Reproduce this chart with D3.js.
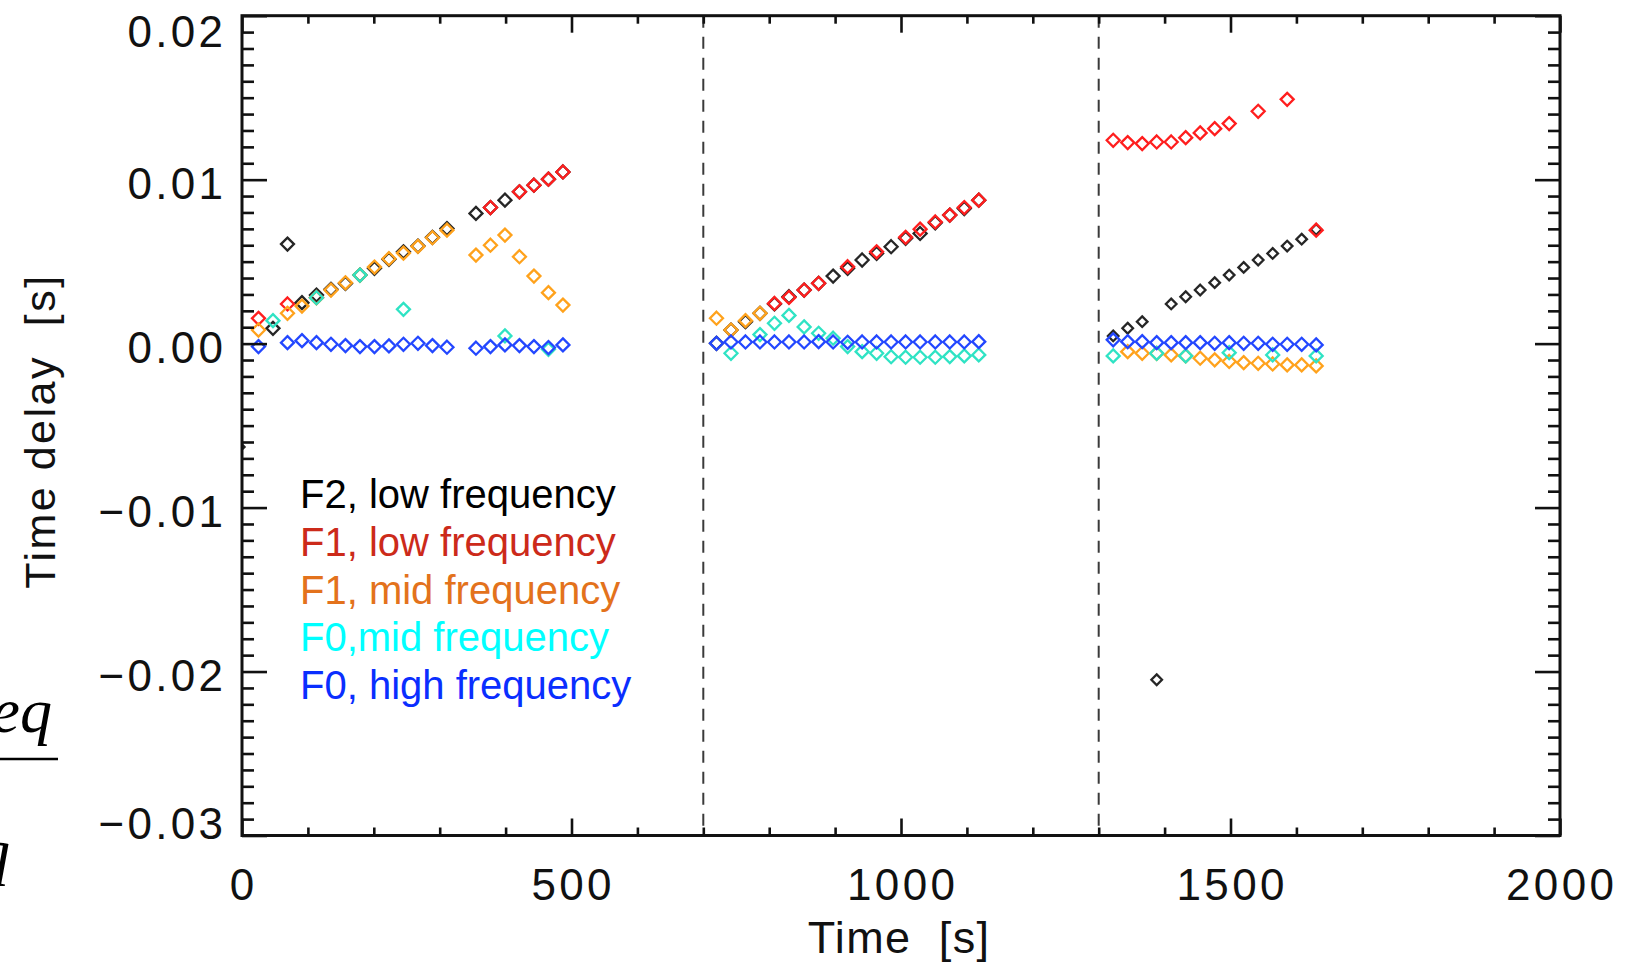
<!DOCTYPE html>
<html>
<head>
<meta charset="utf-8">
<script src="https://cdn.jsdelivr.net/npm/d3@7"></script>
<style>
  html, body { margin: 0; padding: 0; background: #fff; }
  svg { display: block; }
  text { white-space: pre; }
</style>
</head>
<body>
<svg id="chart" width="1645" height="967"></svg>
<script>
// ---------------- DATA ----------------
const xTickLabels = [0, 500, 1000, 1500, 2000];
const yTickLabels = [-0.03, -0.02, -0.01, 0.00, 0.01, 0.02];
const dividerTimes = [700, 1300];

const legendLabels = ["F2, low frequency", "F1, low frequency", "F1, mid frequency", "F0,mid frequency", "F0, high frequency"];

// F2, low frequency (black)
const f2LowTime  = [-6, 47, 69, 91, 113, 135, 157, 179, 201, 223, 245, 267, 289, 311, 355, 377, 399, 421, 443, 465, 487,
  720, 742, 764, 786, 808, 830, 853, 875, 897, 919, 941, 963, 985, 1007, 1029, 1052, 1074, 1096, 1118,
  1322, 1344, 1366, 1388, 1410, 1432, 1454, 1476, 1498, 1520, 1542, 1564, 1586, 1608, 1630];
const f2LowDelay = [-0.0063, 0.00093, 0.00607, 0.0025, 0.00296, 0.00331, 0.00367, 0.00418, 0.00459, 0.00514, 0.0056, 0.00595, 0.00648, 0.00702, 0.00794, 0.0083, 0.00875, 0.00926, 0.00966, 0.01003, 0.01047,
  0.00002, 0.00083, 0.00134, 0.00185, 0.00242, 0.00286, 0.00327, 0.00368, 0.00412, 0.00459, 0.0051, 0.0055, 0.00591, 0.00642, 0.00672, 0.00737, 0.00784, 0.00824, 0.00875,
  0.00047, 0.00094, 0.00134, -0.0205, 0.00242, 0.00286, 0.00327, 0.00372, 0.00418, 0.00465, 0.0051, 0.0055, 0.00595, 0.00637, 0.00696];

// F1, low frequency (red)
const f1LowTime  = [25, 69, 113, 377, 421, 443, 465, 487,
  808, 830, 853, 875, 919, 963, 1007, 1029, 1052, 1074, 1096, 1118,
  1322, 1344, 1366, 1388, 1410, 1432, 1454, 1476, 1498, 1542, 1586, 1630];
const f1LowDelay = [0.00154, 0.00242, 0.0028, 0.0083, 0.00926, 0.00966, 0.01003, 0.01047,
  0.00245, 0.00282, 0.00327, 0.00368, 0.00469, 0.0056, 0.00648, 0.00698, 0.00742, 0.00784, 0.0083, 0.00875,
  0.0124, 0.01226, 0.0122, 0.0123, 0.0123, 0.01256, 0.01285, 0.01311, 0.01342, 0.01417, 0.0149, 0.00692];

// F1, mid frequency (orange)
const f1MidTime  = [25, 69, 91, 113, 135, 157, 179, 201, 223, 245, 267, 289, 311, 355, 377, 399, 421, 443, 465, 487,
  720, 742, 764, 786,
  1344, 1366, 1388, 1410, 1432, 1454, 1476, 1498, 1520, 1542, 1564, 1586, 1608, 1630];
const f1MidDelay = [0.00083, 0.00185, 0.00229, 0.0028, 0.00327, 0.00371, 0.00418, 0.00467, 0.00518, 0.00552, 0.00593, 0.00646, 0.00692, 0.0054, 0.006, 0.00662, 0.0053, 0.00412, 0.00311, 0.00235,
  0.00155, 0.00083, 0.0014, 0.00185,
  -0.00049, -0.00059, -0.0006, -0.00069, -0.00075, -0.00089, -0.00099, -0.00109, -0.00116, -0.0012, -0.00124, -0.0013, -0.0013, -0.00136];

// F0, mid frequency (cyan)
const f0MidTime  = [47, 113, 179, 245, 399, 465,
  742, 786, 808, 830, 853, 875, 897, 919, 941, 963, 985, 1007, 1029, 1052, 1074, 1096, 1118,
  1322, 1388, 1432, 1498, 1564, 1630];
const f0MidDelay = [0.0014, 0.0028, 0.00418, 0.00209, 0.00047, -0.00035,
  -0.00059, 0.00055, 0.00124, 0.00172, 0.00102, 0.00063, 0.00033, -0.00018, -0.00049, -0.00059, -0.0008, -0.00083, -0.00083, -0.00083, -0.00079, -0.00075, -0.00069,
  -0.00075, -0.00059, -0.00075, -0.00055, -0.00069, -0.00075];

// F0, high frequency (blue)
const f0HighTime  = [25, 69, 91, 113, 135, 157, 179, 201, 223, 245, 267, 289, 311, 355, 377, 399, 421, 443, 465, 487,
  720, 742, 764, 786, 808, 830, 853, 875, 897, 919, 941, 963, 985, 1007, 1029, 1052, 1074, 1096, 1118,
  1322, 1344, 1366, 1388, 1410, 1432, 1454, 1476, 1498, 1520, 1542, 1564, 1586, 1608, 1630];
const f0HighDelay = [-0.00018, 0.00006, 0.00018, 0.00006, -0.00004, -0.00012, -0.00018, -0.00018, -0.00014, -0.00004, 0.00002, -0.00012, -0.00022, -0.00028, -0.00018, -0.00008, -0.00012, -0.00018, -0.00024, -0.00008,
  0.00002, 0.0001, 0.0001, 0.0001, 0.0001, 0.0001, 0.0001, 0.00012, 0.0001, 0.00008, 0.0001, 0.0001, 0.0001, 0.0001, 0.0001, 0.0001, 0.0001, 0.0001, 0.00012,
  0.00023, 0.00012, 0.00012, 0.00006, 0.00006, 0.00006, 0.00006, 0.00002, 0.00006, 0.00002, 0.00002, -0.00004, -0.00004, -0.00004, -0.00008];

// ---------------- LAYOUT / STYLE ----------------
const svg = d3.select("#chart");
svg.append("rect").attr("width", 1645).attr("height", 967).attr("fill", "#fff");

const L = 242, R = 1560, T = 15.7, B = 835.5;
const x = d3.scaleLinear().domain([0, 2000]).range([L, R]);
const y = d3.scaleLinear().domain([-0.03, 0.02]).range([B, T]);

const tickFont = "'Liberation Sans', Arial, Helvetica, sans-serif";

// clip for points
svg.append("clipPath").attr("id", "plotclip")
  .append("rect").attr("x", L).attr("y", T).attr("width", R - L).attr("height", B - T);

// dashed dividers
svg.append("g").selectAll("line").data(dividerTimes).join("line")
  .attr("x1", d => x(d)).attr("x2", d => x(d))
  .attr("y1", T).attr("y2", B)
  .attr("stroke", "#3a3a3a").attr("stroke-width", 2)
  .attr("stroke-dasharray", "12,9");

// series
const series = [
  { t: f2LowTime,  v: f2LowDelay,  color: "#262626", small: true },
  { t: f1LowTime,  v: f1LowDelay,  color: "#ff1e1e" },
  { t: f1MidTime,  v: f1MidDelay,  color: "#ffa21c" },
  { t: f0MidTime,  v: f0MidDelay,  color: "#2fe3c4" },
  { t: f0HighTime, v: f0HighDelay, color: "#2347ff" }
];

const diamond = r => `M0,${-r}L${r},0L0,${r}L${-r},0Z`;
const pts = svg.append("g").attr("clip-path", "url(#plotclip)");
series.forEach(s => {
  const data = s.t.map((t, i) => ({ t, v: s.v[i] }));
  pts.append("g").selectAll("path").data(data).join("path")
    .attr("transform", d => `translate(${x(d.t)},${y(d.v)})`)
    .attr("d", d => diamond(s.small && d.t > 1300 ? 5.3 : 6.5))
    .attr("fill", "none")
    .attr("stroke", s.color)
    .attr("stroke-width", 2.3)
    .attr("stroke-linejoin", "miter");
});

// axes ticks (inward on all sides)
const xMajor = d3.range(0, 2001, 500);
const xMinor = d3.range(0, 2001, 100).filter(d => d % 500 !== 0);
const yMajor = yTickLabels;
const yMinor = d3.range(-30, 21, 1).map(d => d / 1000).filter(d => Math.abs(Math.round(d * 1000) % 10) !== 0);

function addAxis(axisGen, transform) {
  const g = svg.append("g").attr("transform", transform).call(axisGen);
  g.select(".domain").remove();
  g.selectAll("line").attr("stroke", "#111").attr("stroke-width", 2.6);
  g.selectAll("text").remove();
}
addAxis(d3.axisBottom(x).tickValues(xMajor).tickSize(-17).tickFormat(""), `translate(0,${B})`);
addAxis(d3.axisBottom(x).tickValues(xMinor).tickSize(-8).tickFormat(""), `translate(0,${B})`);
addAxis(d3.axisTop(x).tickValues(xMajor).tickSize(-17).tickFormat(""), `translate(0,${T})`);
addAxis(d3.axisTop(x).tickValues(xMinor).tickSize(-8).tickFormat(""), `translate(0,${T})`);
addAxis(d3.axisLeft(y).tickValues(yMajor).tickSize(-25).tickFormat(""), `translate(${L},0)`);
addAxis(d3.axisLeft(y).tickValues(yMinor).tickSize(-12).tickFormat(""), `translate(${L},0)`);
addAxis(d3.axisRight(y).tickValues(yMajor).tickSize(-25).tickFormat(""), `translate(${R},0)`);
addAxis(d3.axisRight(y).tickValues(yMinor).tickSize(-12).tickFormat(""), `translate(${R},0)`);

// frame
svg.append("rect").attr("x", L).attr("y", T).attr("width", R - L).attr("height", B - T)
  .attr("fill", "none").attr("stroke", "#111").attr("stroke-width", 3);

// tick labels
const ls = 3.3;
svg.append("g").selectAll("text").data(xTickLabels).join("text")
  .attr("x", d => x(d) + ls / 2).attr("y", 900)
  .attr("text-anchor", "middle")
  .attr("font-family", tickFont).attr("font-size", 44)
  .attr("letter-spacing", ls).attr("fill", "#111")
  .text(d => d3.format("d")(d));

// labels at the ends of the y range are kept inside the frame height (as in the original)
const yLabelBaseline = d => {
  const p = y(d);
  if (p - T < 1) return p + 31;      // top label pushed down
  if (B - p < 1) return p + 3;       // bottom label pulled up
  return p + 19;
};
svg.append("g").selectAll("text").data(yTickLabels).join("text")
  .attr("x", 223 + ls).attr("y", yLabelBaseline)
  .attr("text-anchor", "end")
  .attr("font-family", tickFont).attr("font-size", 44)
  .attr("letter-spacing", ls).attr("fill", "#111")
  .text(d => (d < 0 ? "\u2212" : "") + d3.format(".2f")(Math.abs(d)));

// axis titles
svg.append("text").attr("x", 899).attr("y", 953)
  .attr("text-anchor", "middle")
  .attr("font-family", tickFont).attr("font-size", 45).attr("fill", "#111")
  .attr("letter-spacing", 1.3)
  .text("Time  [s]");

svg.append("text")
  .attr("transform", "translate(55,431) rotate(-90)")
  .attr("text-anchor", "middle")
  .attr("font-family", tickFont).attr("font-size", 43).attr("fill", "#111")
  .attr("letter-spacing", 2.5)
  .text("Time delay  [s]");

// legend
const legendColors = ["#000000", "#cc2a1a", "#e3721c", "#00ffff", "#0a2eff"];
svg.append("g").selectAll("text").data(legendLabels).join("text")
  .attr("x", 300).attr("y", (d, i) => 508 + i * 47.8)
  .attr("font-family", tickFont).attr("font-size", 40)
  .attr("fill", (d, i) => legendColors[i])
  .text(d => d);

// cropped formula fragments at the left edge (cut off in the original too)
const serif = "'Liberation Serif', 'DejaVu Serif', serif";
svg.append("text").attr("x", 52).attr("y", 732).attr("text-anchor", "end")
  .attr("font-family", serif).attr("font-style", "italic").attr("font-size", 64).attr("fill", "#000")
  .text("eq");
svg.append("line").attr("x1", 0).attr("x2", 58).attr("y1", 759).attr("y2", 759)
  .attr("stroke", "#000").attr("stroke-width", 2.5);
svg.append("text").attr("x", 10).attr("y", 872).attr("text-anchor", "end")
  .attr("font-family", serif).attr("font-style", "italic").attr("font-size", 64).attr("fill", "#000")
  .text("q");
</script>
</body>
</html>
